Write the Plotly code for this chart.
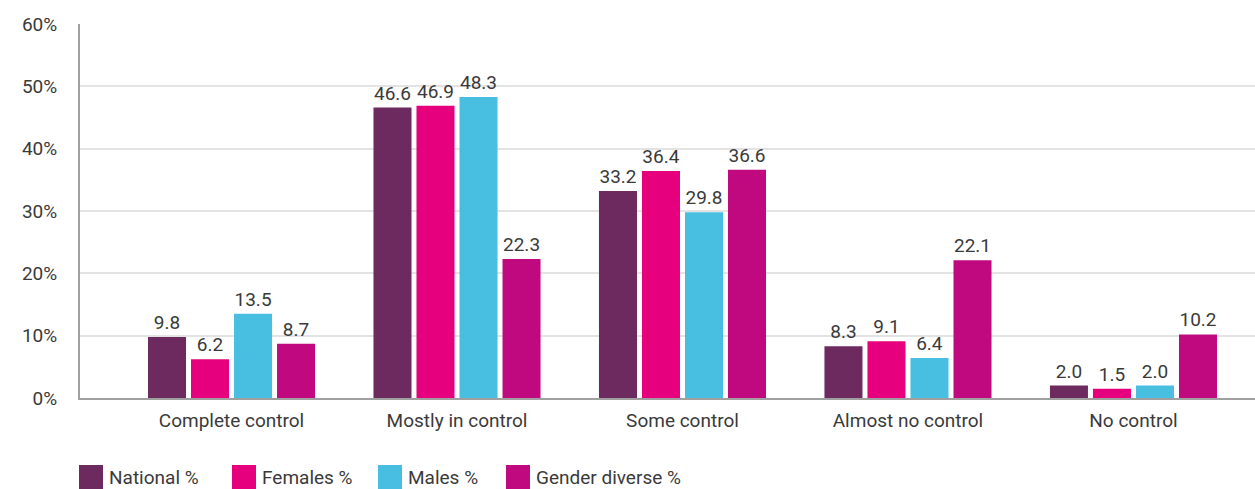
import plotly.graph_objects as go

categories = ["Complete control", "Mostly in control", "Some control", "Almost no control", "No control"]
series_names = ["National %", "Females %", "Males %", "Gender diverse %"]
national = [9.8, 46.6, 33.2, 8.3, 2.0]
females = [6.2, 46.9, 36.4, 9.1, 1.5]
males = [13.5, 48.3, 29.8, 6.4, 2.0]
gender_diverse = [8.7, 22.3, 36.6, 22.1, 10.2]
colors = ["#6C2A5F", "#E6007E", "#48BFE1", "#C1097F"]
y_ticks = [0, 10, 20, 30, 40, 50, 60]
y_tick_labels = ["0%", "10%", "20%", "30%", "40%", "50%", "60%"]

FONT = "Roboto"
FS = 19
TXT = "#3a3a3a"

fig = go.Figure()
for name, vals, col in zip(series_names, [national, females, males, gender_diverse], colors):
    fig.add_trace(go.Bar(
        x=categories, y=vals, name=name, marker_color=col,
        marker_line_width=0,
        text=[f"{v:.1f}" for v in vals], textposition="outside",
        textfont=dict(family=FONT, size=FS, color=TXT),
        cliponaxis=False, showlegend=False,
    ))

# legend drawn as squares + text in paper coordinates
W, H = 1255, 489
ml, mr, mt, mb = 80, 0, 24, 91
pw, ph = W - ml - mr, H - mt - mb
legend_x_px = [79, 232, 378, 506]
for xpx, name, col in zip(legend_x_px, series_names, colors):
    x0 = (xpx - ml) / pw
    x1 = (xpx + 24 - ml) / pw
    y0 = (H - mb - 489) / ph
    y1 = (H - mb - 465) / ph
    fig.add_shape(type="rect", xref="paper", yref="paper", x0=x0, x1=x1, y0=y0, y1=y1,
                  fillcolor=col, line_width=0)
    fig.add_annotation(xref="paper", yref="paper", x=(xpx + 28 - ml) / pw, y=(H - mb - 477) / ph,
                       text=name, showarrow=False, xanchor="left", yanchor="middle",
                       font=dict(family=FONT, size=FS, color=TXT))

fig.update_layout(
    width=W, height=H,
    margin=dict(l=ml, r=mr, t=mt, b=mb),
    plot_bgcolor="white", paper_bgcolor="white",
    barmode="group", bargap=0.237, bargroupgap=0.116,
    font=dict(family=FONT, size=FS, color=TXT),
    xaxis=dict(range=[-0.672, 4.539], showgrid=False, showline=True, linecolor="#a0a0a0",
               linewidth=2, ticks="", tickfont=dict(family=FONT, size=FS, color=TXT),
               ticklabelstandoff=4),
    yaxis=dict(range=[0, 60], tickvals=y_ticks, ticktext=y_tick_labels, showgrid=True,
               gridcolor="#e3e3e3", gridwidth=2, showline=True, linecolor="#a0a0a0", linewidth=2,
               ticks="", zeroline=False, tickfont=dict(family=FONT, size=FS, color=TXT),
               ticklabelstandoff=17),
)

fig.write_html("out.html")
